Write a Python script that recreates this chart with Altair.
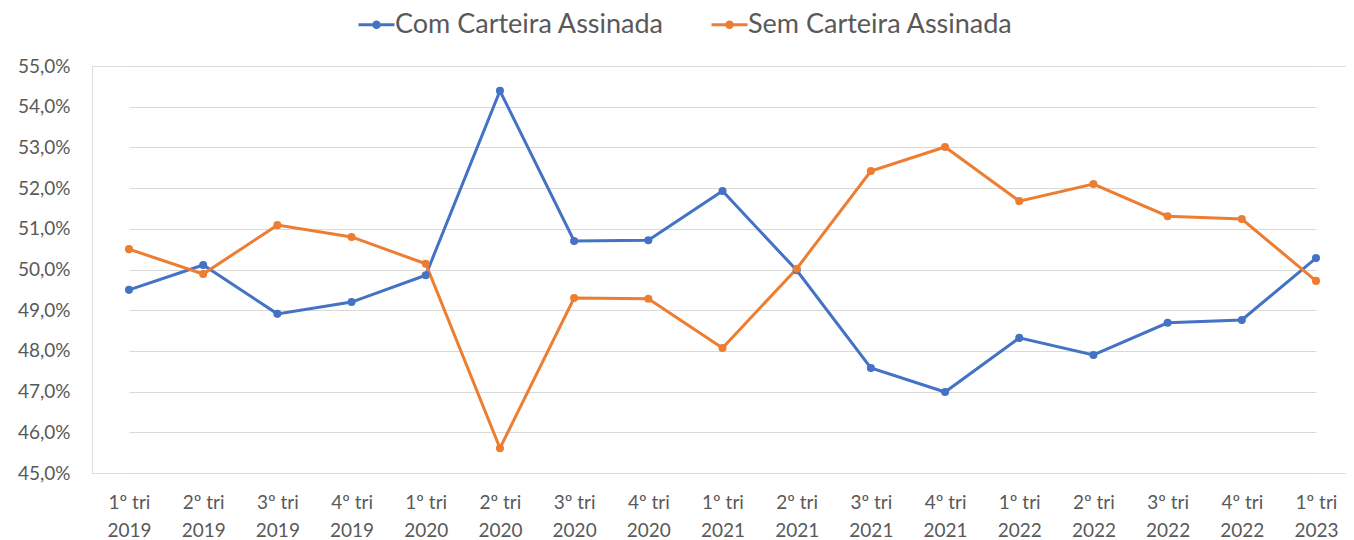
import altair as alt
import pandas as pd

trimestres = [
    "1º tri 2019", "2º tri 2019", "3º tri 2019", "4º tri 2019",
    "1º tri 2020", "2º tri 2020", "3º tri 2020", "4º tri 2020",
    "1º tri 2021", "2º tri 2021", "3º tri 2021", "4º tri 2021",
    "1º tri 2022", "2º tri 2022", "3º tri 2022", "4º tri 2022",
    "1º tri 2023",
]
com_carteira = [49.50, 50.11, 48.91, 49.20, 49.86, 54.39, 50.70, 50.72, 51.93,
                49.98, 47.58, 46.99, 48.32, 47.90, 48.69, 48.76, 50.28]
sem_carteira = [50.50, 49.89, 51.09, 50.80, 50.14, 45.61, 49.30, 49.28, 48.07,
                50.02, 52.42, 53.01, 51.68, 52.10, 51.31, 51.24, 49.72]
series_names = ["Com Carteira Assinada", "Sem Carteira Assinada"]
series_colors = ["#4472C4", "#ED7D31"]
y_ticks = [45, 46, 47, 48, 49, 50, 51, 52, 53, 54, 55]

rows = []
for name, vals in zip(series_names, [com_carteira, sem_carteira]):
    for i, (t, v) in enumerate(zip(trimestres, vals)):
        rows.append({"trimestre": t, "serie": name, "valor": v, "ordem": i})
df = pd.DataFrame(rows)

FONT = "Lato"
GREY = "#595959"

legend_path = ("M-3.6,0H3.6"
               "M-0.36,0A0.36,0.36 0 1,0 0.36,0A0.36,0.36 0 1,0 -0.36,0"
               "M-0.56,0A0.56,0.56 0 1,0 0.56,0A0.56,0.56 0 1,0 -0.56,0")

x_enc = alt.X(
    "trimestre:N",
    sort=trimestres,
    scale=alt.Scale(type="point", range=[37, 1224], padding=0),
    axis=alt.Axis(
        title=None, labelAngle=0, domain=False, ticks=False, grid=False,
        labelFont=FONT, labelFontSize=19, labelColor=GREY,
        labelLineHeight=28, labelPadding=20, labelBaseline="top",
        labelExpr="[slice(datum.label, 0, 6), slice(datum.label, 7)]",
    ),
)
y_enc = alt.Y(
    "valor:Q",
    scale=alt.Scale(domain=[45, 55], nice=False, zero=False),
    axis=alt.Axis(
        title=None, values=y_ticks, domain=False, ticks=False, tickSize=0,
        grid=True, gridColor="#D9D9D9", gridWidth=1,
        labelFont=FONT, labelFontSize=19, labelColor=GREY, labelPadding=22,
        labelExpr="replace(format(datum.value, '.1f'), '.', ',') + '%'",
    ),
)

line = alt.Chart(df).mark_line(strokeWidth=3).encode(
    x=x_enc,
    y=y_enc,
    color=alt.Color(
        "serie:N",
        scale=alt.Scale(domain=series_names, range=series_colors),
        legend=alt.Legend(
            title=None, orient="none", direction="horizontal",
            legendX=271, legendY=-55,
            symbolType=legend_path, symbolSize=100, symbolStrokeWidth=3,
            labelFont=FONT, labelFontSize=27, labelColor=GREY, labelLimit=0,
            labelOffset=5, columnPadding=41, padding=0,
        ),
    ),
    order="ordem:Q",
)

points = alt.Chart(df).mark_point(filled=True, size=65, opacity=1).encode(
    x=x_enc,
    y=y_enc,
    fill=alt.Fill(
        "serie:N",
        scale=alt.Scale(domain=series_names, range=series_colors),
        legend=None,
    ),
)

chart = alt.layer(line, points).properties(
    width=1254,
    height=407,
    padding={"left": 84, "top": 58, "right": 0, "bottom": 67},
    autosize=alt.AutoSizeParams(type="none"),
).configure_view(stroke="transparent", strokeWidth=0, strokeOpacity=0).configure(font=FONT)

chart.save("out.html", embed_options={"renderer": "svg", "actions": False})
